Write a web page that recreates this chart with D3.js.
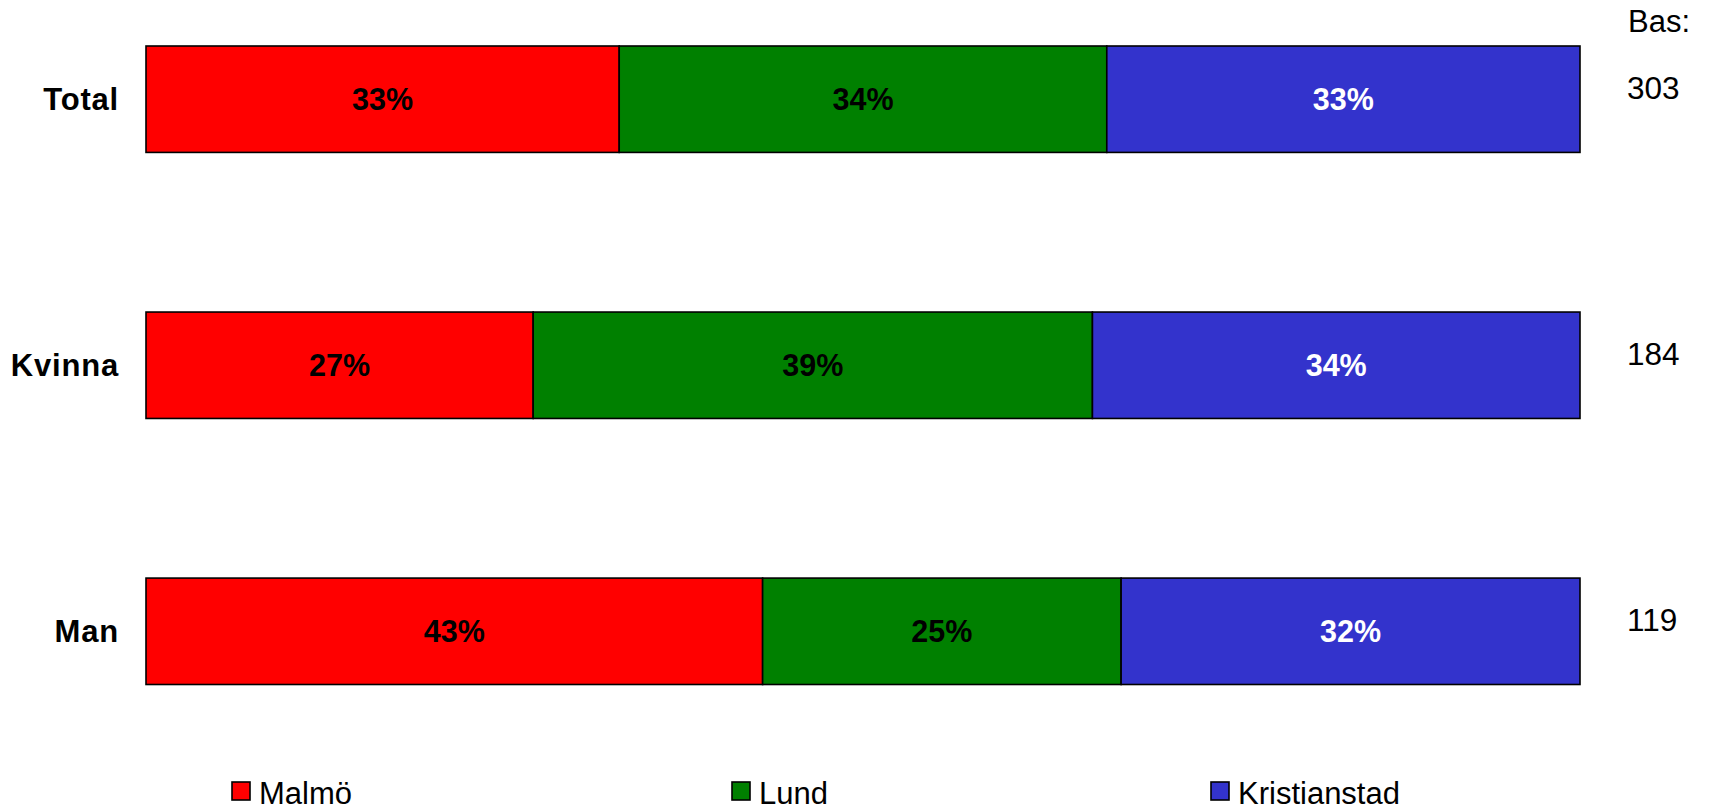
<!DOCTYPE html>
<html>
<head>
<meta charset="utf-8">
<script src="https://cdn.jsdelivr.net/npm/d3@7/dist/d3.min.js"></script>
<style>
  html, body { margin: 0; padding: 0; background: #fff; }
  svg { display: block; font-family: "Liberation Sans", Arial, sans-serif; }
</style>
</head>
<body>
<svg id="chart" width="1709" height="806"></svg>
<script>
// Groups and their shares per city (percent)
const categories = ["Total", "Kvinna", "Man"];
const seriesNames = ["Malmö", "Lund", "Kristianstad"];
const malmo = [33, 27, 43];
const lund = [34, 39, 25];
const kristianstad = [33, 34, 32];
const bases = [303, 184, 119];
const baseTitle = "Bas:";

const colors = ["#ff0000", "#008000", "#3333cc"];
const labelColors = ["#000", "#000", "#fff"];

const rows = categories.map((c, i) => ({
  category: c, "Malmö": malmo[i], "Lund": lund[i], "Kristianstad": kristianstad[i]
}));
const stacked = d3.stack().keys(seriesNames)(rows);

const svg = d3.select("#chart");

const x = d3.scaleLinear().domain([0, 100]).range([146, 1580]);
const y = d3.scaleBand().domain(categories).range([46, 684.5]).paddingInner(0.6).paddingOuter(0);

// Stacked bar segments
const layers = svg.selectAll("g.layer").data(stacked).join("g")
  .attr("class", "layer")
  .attr("fill", (d, i) => colors[i]);

layers.selectAll("rect").data(d => d).join("rect")
  .attr("x", d => x(d[0]))
  .attr("y", d => y(d.data.category))
  .attr("width", d => x(d[1]) - x(d[0]))
  .attr("height", y.bandwidth())
  .attr("stroke", "#000")
  .attr("stroke-width", 1.6);

// Percent labels centered in each segment
layers.each(function(layer, li) {
  d3.select(this).selectAll("text").data(layer).join("text")
    .attr("x", d => (x(d[0]) + x(d[1])) / 2)
    .attr("y", d => y(d.data.category) + y.bandwidth() / 2)
    .attr("dy", "0.36em")
    .attr("text-anchor", "middle")
    .attr("font-size", 30.5)
    .attr("font-weight", "bold")
    .attr("fill", labelColors[li])
    .text(d => Math.round(d[1] - d[0]) + "%");
});

// Category axis on the left, no line or ticks
const yAxis = svg.append("g")
  .attr("transform", "translate(119,0)")
  .call(d3.axisLeft(y).tickSize(0).tickPadding(0));
yAxis.select(".domain").remove();
yAxis.selectAll("text")
  .attr("font-size", 31)
  .attr("font-weight", "bold")
  .attr("font-family", "'Liberation Sans', Arial, sans-serif")
  .attr("letter-spacing", "0.8px")
  .attr("fill", "#000")
  .attr("dy", "0.36em");

// Base counts on the right
svg.append("text")
  .attr("x", 1628).attr("y", 32)
  .attr("font-size", 31)
  .attr("fill", "#000")
  .text(baseTitle);

svg.selectAll("text.base").data(bases).join("text")
  .attr("class", "base")
  .attr("x", 1627)
  .attr("y", (d, i) => y(categories[i]) + y.bandwidth() / 2)
  .attr("font-size", 31.5)
  .attr("fill", "#000")
  .text(d => d);

// Legend along the bottom
const legendX = [232, 732, 1211];
const legend = svg.selectAll("g.legend").data(seriesNames).join("g")
  .attr("class", "legend")
  .attr("transform", (d, i) => `translate(${legendX[i]},782)`);
legend.append("rect")
  .attr("width", 18).attr("height", 18)
  .attr("fill", (d, i) => colors[i])
  .attr("stroke", "#000")
  .attr("stroke-width", 1.6);
legend.append("text")
  .attr("x", 27).attr("y", 22)
  .attr("font-size", 31)
  .attr("fill", "#000")
  .text(d => d);
</script>
</body>
</html>
